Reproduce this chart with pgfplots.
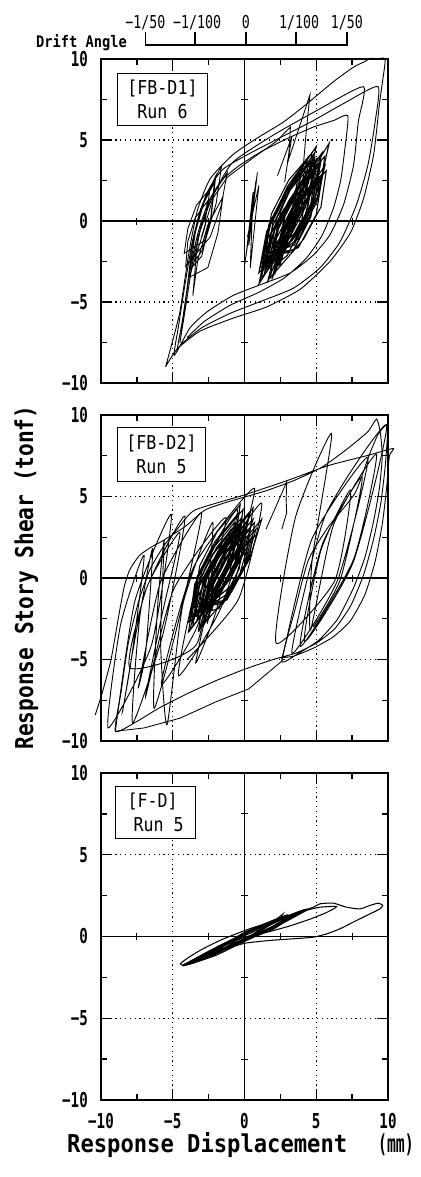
\documentclass[border=0pt]{standalone}
\usepackage{fontspec}
\setmainfont{DejaVu Sans Mono}
\newfontfamily\tickfont[FakeStretch=0.69]{DejaVu Sans Mono}
\newfontfamily\labfont[FakeStretch=0.9]{DejaVu Sans Mono}
\newfontfamily\ylabfont[FakeStretch=0.86]{DejaVu Sans Mono}
\newfontfamily\mmfont[FakeStretch=0.6]{DejaVu Sans Mono}
\newfontfamily\boxfont[FakeStretch=0.87]{DejaVu Sans Mono}
\newfontfamily\drfont[FakeStretch=0.75]{DejaVu Sans Mono}
\newfontfamily\dafont[FakeStretch=0.86]{DejaVu Sans Mono}
\usepackage{pgfplots}
\pgfplotsset{compat=1.18}
\newcommand\tickf{\tickfont\bfseries\fontsize{20.6pt}{24pt}\selectfont}
\newcommand\labf{\labfont\bfseries\fontsize{24.7pt}{28pt}\selectfont}
\newcommand\ylabf{\ylabfont\bfseries\fontsize{24.7pt}{28pt}\selectfont}
\newcommand\mmf{\mmfont\bfseries\fontsize{24.7pt}{28pt}\selectfont}
\newcommand\boxf{\boxfont\fontsize{19.2pt}{24pt}\selectfont}
\newcommand\drf{\drfont\fontsize{17.8pt}{20pt}\selectfont}
\newcommand\daf{\dafont\bfseries\fontsize{16pt}{18pt}\selectfont}
\pgfplotsset{
  hyst/.style={
    scale only axis, width=287bp,
    xmin=-10, xmax=10, ymin=-10, ymax=10,
    axis line style={line width=1.8bp, black},
    xtick={-10,-5,0,5,10}, ytick={-10,-5,0,5,10},
    yticklabels={−10,−5,0,5,10},
    minor xtick={-7.5,-2.5,2.5,7.5}, minor ytick={-7.5,-2.5,2.5,7.5},
    tick align=inside, major tick length=11bp, minor tick length=6bp,
    every tick/.style={black, line width=1.4bp},
    grid=major,
    major grid style={black, line width=1.2bp, dash pattern=on 1.2bp off 3.6bp},
    extra x ticks={0}, extra y ticks={0},
    extra x tick labels={}, extra y tick labels={},
    extra tick style={grid=major, major grid style={solid, black, line width=1.2bp}},
    clip=false,
    yticklabel style={font=\tickf, anchor=east, inner sep=0pt, xshift=-13bp},
    xticklabel style={font=\tickf, anchor=north, inner sep=0pt, yshift=-13bp},
  },
  lp/.style={black, line width=0.9bp, smooth, tension=0.35},
  lq/.style={black, line width=0.85bp},
  lc/.style={black, line width=1.05bp},
  zt/.style={only marks, mark=|, mark size=3.5bp, mark options={line width=1.1bp, black}},
  zu/.style={only marks, mark=-, mark size=3.5bp, mark options={line width=1.1bp, black}},
}
\begin{document}
\begin{tikzpicture}
\useasboundingbox (0,0) rectangle (421bp,-1177bp);

% ---------- drift angle scale ----------
\begin{axis}[at={(101bp,-45bp)}, anchor=south west, scale only axis,
  width=287bp, height=13bp, xmin=-10, xmax=10, ymin=0, ymax=1,
  hide axis, clip=false]
\addplot[black, line width=1.5bp] coordinates {(-6.9,1) (-6.9,0) (7.14,0) (7.14,1)};
\addplot[black, line width=1.5bp] coordinates {(-3.45,0) (-3.45,1)};
\addplot[black, line width=1.5bp] coordinates {(0.1,0) (0.1,1)};
\addplot[black, line width=1.5bp] coordinates {(3.6,0) (3.6,1)};
\node[anchor=base, inner sep=0pt, font=\drf] at (axis cs:-6.9,1.27) {−1/50};
\node[anchor=base, inner sep=0pt, font=\drf] at (axis cs:-3.3,1.27) {−1/100};
\node[anchor=base, inner sep=0pt, font=\drf] at (axis cs:0.1,1.27) {0};
\node[anchor=base, inner sep=0pt, font=\drf] at (axis cs:3.8,1.27) {1/100};
\node[anchor=base, inner sep=0pt, font=\drf] at (axis cs:7.14,1.27) {1/50};
\end{axis}
\node[anchor=base east, inner sep=0pt, font=\daf] at (127bp,-47bp) {Drift Angle};

% ---------- panel 1 ----------
\begin{axis}[hyst, at={(101bp,-383bp)}, anchor=south west, height=324bp, xticklabels={}]
\addplot[zt] coordinates {(-7.5,0) (-2.5,0) (2.5,0) (7.5,0)};
\addplot[zu] coordinates {(0,-7.5) (0,-2.5) (0,2.5) (0,7.5)};
\addplot[lp] coordinates {(-5.5,-9.0) (-5.1,-7.7) (-4.5,-5.6) (-3.9,-2.1) (-3.3,0.6) (-2.4,2.6) (-0.8,4.1) (0.85,5.1) (2.7,6.1) (4.3,7.2) (6.2,8.6) (7.6,9.5) (8.4,9.85) (8.8,10.05) (9.2,10.0) (9.8,10.0) (9.6,8.5) (9.4,7.2) (9.0,4.1) (8.3,1.4) (7.4,-0.7) (5.95,-2.5) (3.9,-4.2) (1.55,-5.3) (-0.8,-6.0) (-3.1,-6.8) (-4.7,-7.9) (-5.5,-9.0)};
\addplot[lp] coordinates {(-4.5,-7.5) (-4.1,-5.3) (-3.6,-2.5) (-2.9,0.0) (-2.0,1.9) (-0.78,3.66) (2.0,5.3) (5.0,6.8) (8.28,8.29) (7.93,6.13) (7.6,3.45) (6.9,1.0) (5.95,-0.86) (4.8,-2.1) (3.2,-3.2) (1.2,-3.9) (-0.8,-4.6) (-2.6,-5.6) (-3.8,-6.6) (-4.9,-8.3) (-4.6,-6.5) (-4.2,-4.2) (-3.7,-1.6) (-3.1,0.6) (-2.4,2.1) (-1.5,3.2) (0.15,4.07) (2.5,5.15) (4.8,6.2) (7.0,7.3) (9.3,8.3) (9.1,6.1) (8.6,3.45) (7.8,1.0) (6.65,-1.3) (5.25,-2.9) (3.4,-4.15) (1.08,-4.98) (-1.0,-5.7) (-3.0,-6.6) (-4.4,-7.6) (-4.7,-8.0) (-4.3,-6.0) (-3.8,-3.0) (-3.2,-0.6) (-2.5,1.2) (-1.6,2.5) (-0.4,3.4) (1.2,4.3) (3.0,5.1) (4.8,5.8) (6.2,6.2) (7.2,6.5) (7.0,4.5) (6.7,2.5) (6.2,0.8) (5.4,-0.9) (4.3,-2.3) (2.8,-3.5) (1.0,-4.4) (-1.0,-5.2) (-2.8,-6.2) (-4.0,-7.2)};
\addplot[lq] coordinates {(2.3,2.8) (3.3,5.2) (3.0,3.6) (4.56,7.78) (4.3,5.5) (4.1,3.4) (3.6,1.5)};
\addplot[lq] coordinates {(-3.0,-1.0) (-2.2,1.4) (-1.2,2.7) (0.6,3.9) (2.2,4.9) (3.2,5.8) (3.1,4.2) (2.8,2.4)};
\addplot[lq] coordinates {(-4.0,-4.2) (-3.68,-1.67) (-3.02,0.77) (-2.0,2.8) (-2.32,0.27) (-2.98,-2.17) (-3.8,-3.0) (-3.42,-0.67) (-2.68,1.57) (-1.6,3.4) (-1.98,1.07) (-2.72,-1.17) (-4.2,-2.0) (-3.95,-0.47) (-3.35,0.97) (-2.4,2.0) (-2.65,0.47) (-3.25,-0.97) (-3.6,-4.6) (-3.25,-2.37) (-2.55,-0.23) (-1.5,1.5) (-1.85,-0.73) (-2.55,-2.87) (-3.9,-3.5) (-3.65,-1.33) (-3.05,0.73) (-2.1,2.4) (-2.35,0.23) (-2.95,-1.83) (-3.5,-2.5) (-3.08,-0.47) (-2.32,1.47) (-1.2,3.0) (-1.62,0.97) (-2.38,-0.97) (-4.1,-2.8) (-3.95,-1.27) (-3.45,0.17) (-2.6,1.2) (-2.75,-0.33) (-3.25,-1.77) (-3.9,-3.6)};
\addplot[lq] coordinates {(0.0,-2.8) (0.8,2.5) (0.3,-1.5) (0.9,3.0) (0.1,-2.2) (0.6,1.8) (0.4,-2.9) (1.0,2.2) (0.2,-1.0)};
\addplot[lc] coordinates {(1.2,-3.4) (1.88,-1.0) (3.12,1.3) (4.6,3.2) (3.92,0.8) (2.68,-1.5) (1.8,-2.6) (2.42,-0.27) (3.58,1.97) (5.0,3.8) (4.38,1.47) (3.22,-0.77) (1.0,-3.9) (1.62,-1.53) (2.78,0.73) (4.2,2.6) (3.58,0.23) (2.42,-2.03) (2.2,-2.0) (2.82,0.27) (3.98,2.43) (5.4,4.2) (4.78,1.93) (3.62,-0.23) (1.5,-3.0) (2.18,-0.8) (3.42,1.3) (4.9,3.0) (4.22,0.8) (2.98,-1.3) (1.9,-3.6) (2.55,-1.4) (3.75,0.7) (5.2,2.4) (4.55,0.2) (3.35,-1.9) (1.3,-2.2) (1.88,0.03) (3.02,2.17) (4.4,3.9) (3.82,1.67) (2.68,-0.47) (2.4,-2.8) (3.02,-0.53) (4.18,1.63) (5.6,3.4) (4.98,1.13) (3.82,-1.03) (1.1,-2.9) (1.62,-0.63) (2.68,1.53) (4.0,3.3) (3.48,1.03) (2.42,-1.13) (2.0,-1.6) (2.55,0.67) (3.65,2.83) (5.0,4.6) (4.45,2.33) (3.35,0.17) (1.6,-3.8) (2.18,-1.63) (3.32,0.43) (4.7,2.1) (4.12,-0.07) (2.98,-2.13) (2.6,-2.4) (3.25,0.2) (4.45,2.7) (5.9,4.8) (5.25,2.2) (4.05,-0.3) (1.4,-2.5) (1.98,-0.27) (3.12,1.87) (4.5,3.6) (3.92,1.37) (2.78,-0.77) (2.1,-3.2) (2.65,-1.0) (3.75,1.1) (5.1,2.8) (4.55,0.6) (3.45,-1.5) (1.7,-2.0) (2.28,0.23) (3.42,2.37) (4.8,4.1) (4.22,1.87) (3.08,-0.27) (2.8,-1.8) (3.25,0.0) (4.25,1.7) (5.5,3.0) (5.05,1.2) (4.05,-0.5) (1.0,-3.2) (1.48,-0.93) (2.52,1.23) (3.8,3.0) (3.32,0.73) (2.28,-1.43) (2.3,-2.6) (2.85,-0.33) (3.95,1.83) (5.3,3.6) (4.75,1.33) (3.65,-0.83) (1.4,-3.0)};
\addplot[lc] coordinates {(1.4,-3.2) (1.83,-0.83) (3.12,1.28) (4.8,3.0) (4.37,0.63) (3.08,-1.48) (2.0,-2.4) (2.4,-0.1) (3.65,1.95) (5.3,3.6) (4.9,1.3) (3.65,-0.75) (1.1,-3.6) (1.5,-1.3) (2.75,0.75) (4.4,2.4) (4.0,0.1) (2.75,-1.95) (2.4,-2.0) (2.77,0.3) (3.98,2.35) (5.6,4.0) (5.23,1.7) (4.02,-0.35) (1.7,-2.9) (2.1,-0.53) (3.35,1.58) (5.0,3.3) (4.6,0.93) (3.35,-1.18) (1.3,-2.6) (1.7,-0.2) (2.95,1.95) (4.6,3.7) (4.2,1.3) (2.95,-0.85) (2.1,-3.3) (2.5,-1.0) (3.75,1.05) (5.4,2.7) (5.0,0.4) (3.75,-1.65) (1.6,-2.3) (2.0,0.07) (3.25,2.18) (4.9,3.9) (4.5,1.53) (3.25,-0.58) (1.2,-3.0) (1.53,-0.67) (2.72,1.42) (4.3,3.1) (3.97,0.77) (2.78,-1.32) (2.5,-2.7) (2.87,-0.47) (4.08,1.52) (5.7,3.1) (5.33,0.87) (4.12,-1.12) (1.8,-3.5) (2.17,-1.17) (3.38,0.92) (5.0,2.6) (4.63,0.27) (3.42,-1.82) (1.5,-1.9) (1.87,0.43) (3.08,2.52) (4.7,4.2) (4.33,1.87) (3.12,-0.22) (1.3,-2.8)};
\node[draw, line width=1bp, anchor=north west, minimum width=90bp, minimum height=52bp, align=center, inner sep=0pt, font=\boxf, fill=white] at (rel axis cs:0.0557,0.957) {[FB-D1]\\Run 6};
\end{axis}

% ---------- panel 2 ----------
\begin{axis}[hyst, at={(101bp,-741bp)}, anchor=south west, height=326bp, xticklabels={}]
\addplot[zt] coordinates {(-7.5,0) (-2.5,0) (2.5,0) (7.5,0)};
\addplot[zu] coordinates {(0,-7.5) (0,-2.5) (0,2.5) (0,7.5)};
\addplot[lp] coordinates {(-10.4,-8.4) (-9.9,-7.0) (-9.3,-5.0) (-8.8,-2.5) (-8.4,-0.6) (-8.0,0.5) (-7.3,1.4) (-6.4,1.95) (-5.8,2.23) (-4.15,3.15) (-2.75,4.17) (-1.13,4.68) (0.27,5.03) (1.66,5.4) (3.5,6.0) (5.4,6.8) (7.2,7.95) (8.6,8.98) (9.2,9.75) (9.45,9.0) (9.6,7.5) (9.4,5.5) (9.0,3.5) (8.4,1.3) (7.6,-0.6) (6.5,-2.5) (5.2,-3.8) (3.8,-4.6) (2.6,-5.1) (3.5,-2.0) (4.45,1.1) (5.85,3.15) (7.7,5.2) (8.65,7.45) (9.3,8.8) (9.9,9.4) (9.95,8.6) (9.8,6.8) (9.5,4.6) (9.0,2.4) (8.3,0.2) (7.4,-1.7) (6.3,-3.1) (5.0,-4.0) (3.6,-4.6) (2.0,-5.0) (0.0,-5.6) (-2.0,-6.3) (-4.0,-7.1) (-6.0,-8.0) (-7.5,-8.8) (-9.0,-9.4) (-8.6,-7.0) (-8.1,-4.0) (-7.4,-1.5) (-6.6,0.5) (-5.6,2.0) (-4.5,3.2) (-3.45,4.17) (0.0,5.1) (3.05,6.0) (5.85,6.9) (8.5,7.5) (10.37,7.95) (10.1,7.5) (9.9,5.5) (9.6,3.3) (9.1,1.0) (8.4,-1.0) (7.4,-2.6) (6.2,-3.6) (4.8,-4.3) (3.4,-4.8) (2.4,-4.9)};
\addplot[lq] coordinates {(2.6,-5.1) (0.3,-6.8) (-2.0,-7.6) (-4.5,-8.6) (-7.0,-9.2) (-9.0,-9.4)};
\addplot[lp] coordinates {(-9.0,-9.4) (-7.64,-1.42) (-5.1,3.9) (-6.47,-4.08) (-9.5,-9.2) (-8.63,-2.84) (-7.0,1.4) (-7.88,-4.96) (-8.5,-8.2) (-6.98,-1.0) (-4.15,3.8) (-5.67,-3.4) (-7.8,-8.9) (-7.31,-2.48) (-6.4,1.8) (-6.89,-4.62) (-7.4,-6.7) (-5.86,-0.28) (-3.0,4.0) (-4.54,-2.42) (-6.3,-8.0) (-6.06,-1.82) (-5.6,2.3) (-5.85,-3.88) (-5.4,-9.0) (-4.28,-1.56) (-2.2,3.4) (-3.32,-4.04) (-8.0,-5.5) (-6.78,-0.52) (-4.5,2.8) (-5.73,-2.18) (-6.9,-7.3) (-4.94,-0.7) (-1.3,3.7) (-3.26,-2.9) (-5.8,-6.5) (-3.53,0.7) (0.7,5.5) (-1.58,-1.7) (-4.6,-6.0) (-3.17,0.12) (-0.5,4.2) (-1.94,-1.92) (-3.4,-5.2) (-1.79,0.68) (1.2,4.6) (-0.41,-1.28) (-4.0,-5.0)};
\addplot[lc] coordinates {(-3.6,-2.8) (-2.98,-0.67) (-1.82,1.37) (-0.4,3.0) (-1.02,0.87) (-2.18,-1.17) (-3.0,-2.2) (-2.38,-0.1) (-1.22,1.9) (0.2,3.5) (-0.42,1.4) (-1.58,-0.6) (-3.8,-3.2) (-3.25,-1.13) (-2.15,0.83) (-0.8,2.4) (-1.35,0.33) (-2.45,-1.63) (-2.7,-1.6) (-2.05,0.33) (-0.85,2.17) (0.6,3.6) (-0.05,1.67) (-1.25,-0.17) (-3.3,-2.6) (-2.68,-0.6) (-1.52,1.3) (-0.1,2.8) (-0.72,0.8) (-1.88,-1.1) (-2.9,-3.0) (-2.28,-1.07) (-1.12,0.77) (0.3,2.2) (-0.32,0.27) (-1.48,-1.57) (-3.5,-1.8) (-2.98,0.1) (-1.92,1.9) (-0.6,3.3) (-1.12,1.4) (-2.18,-0.4) (-2.5,-2.4) (-1.85,-0.4) (-0.65,1.5) (0.8,3.0) (0.15,1.0) (-1.05,-0.9) (-3.7,-2.4) (-3.25,-0.43) (-2.25,1.43) (-1.0,2.9) (-1.45,0.93) (-2.45,-0.93) (-2.8,-1.4) (-2.18,0.6) (-1.02,2.5) (0.4,4.0) (-0.22,2.0) (-1.38,0.1) (-3.2,-3.3) (-2.58,-1.37) (-1.42,0.47) (0.0,1.9) (-0.62,-0.03) (-1.78,-1.87) (-2.3,-2.0) (-1.58,0.07) (-0.32,2.03) (1.2,3.6) (0.48,1.53) (-0.78,-0.43) (-3.4,-2.1) (-2.82,-0.17) (-1.68,1.67) (-0.3,3.1) (-0.88,1.17) (-2.02,-0.67) (-2.6,-2.8) (-2.02,-0.83) (-0.88,1.03) (0.5,2.5) (-0.08,0.53) (-1.22,-1.33) (-3.1,-1.7) (-2.58,0.3) (-1.52,2.2) (-0.2,3.7) (-0.72,1.7) (-1.78,-0.2) (-2.2,-1.5) (-1.62,0.1) (-0.48,1.6) (0.9,2.7) (0.32,1.1) (-0.82,-0.4) (-3.9,-2.7) (-3.45,-0.73) (-2.45,1.13) (-1.2,2.6) (-1.65,0.63) (-2.65,-1.23) (-2.9,-2.3) (-2.35,-0.27) (-1.25,1.67) (0.1,3.2) (-0.45,1.17) (-1.55,-0.77) (-3.3,-2.5)};
\addplot[lc] coordinates {(-3.6,-2.9) (-3.17,-0.53) (-1.88,1.58) (-0.2,3.3) (-0.63,0.93) (-1.92,-1.18) (-3.0,-2.1) (-2.6,0.2) (-1.35,2.25) (0.3,3.9) (-0.1,1.6) (-1.35,-0.45) (-3.9,-3.3) (-3.5,-1.0) (-2.25,1.05) (-0.6,2.7) (-1.0,0.4) (-2.25,-1.65) (-2.6,-1.7) (-2.23,0.6) (-1.02,2.65) (0.6,4.3) (0.23,2.0) (-0.98,-0.05) (-3.3,-2.6) (-2.9,-0.23) (-1.65,1.88) (0.0,3.6) (-0.4,1.23) (-1.65,-0.88) (-3.7,-2.3) (-3.3,0.1) (-2.05,2.25) (-0.4,4.0) (-0.8,1.6) (-2.05,-0.55) (-2.9,-3.0) (-2.5,-0.7) (-1.25,1.35) (0.4,3.0) (0.0,0.7) (-1.25,-1.35) (-3.4,-2.0) (-3.0,0.37) (-1.75,2.48) (-0.1,4.2) (-0.5,1.83) (-1.75,-0.28) (-3.8,-2.7) (-3.47,-0.37) (-2.28,1.72) (-0.7,3.4) (-1.03,1.07) (-2.22,-1.02) (-2.5,-2.4) (-2.13,-0.17) (-0.92,1.82) (0.7,3.4) (0.33,1.17) (-0.88,-0.82) (-3.2,-3.2) (-2.83,-0.87) (-1.62,1.22) (0.0,2.9) (-0.37,0.57) (-1.58,-1.52) (-3.5,-1.6) (-3.13,0.73) (-1.92,2.82) (-0.3,4.5) (-0.67,2.17) (-1.88,0.08) (-3.4,-2.4)};
\addplot[lp] coordinates {(2.6,-5.1) (4.7,2.4) (8.6,7.4) (6.5,-0.1) (3.3,-4.6) (5.61,3.8) (9.9,9.4) (7.59,1.0) (4.2,-3.9) (5.32,1.68) (7.4,5.4) (6.28,-0.18) (2.2,-4.0) (3.55,3.72) (6.07,8.87) (4.72,1.15) (4.6,-3.2) (6.21,3.28) (9.2,7.6) (7.59,1.12) (3.9,-4.2) (5.41,2.04) (8.2,6.2) (6.7,-0.04) (4.8,-3.0)};
\addplot[lq] coordinates {(1.5,3.0) (2.5,5.0) (2.94,5.9) (2.9,4.8) (2.94,4.0) (2.6,3.0)};
\node[draw, line width=1bp, anchor=north west, minimum width=88bp, minimum height=54bp, align=center, inner sep=0pt, font=\boxf, fill=white] at (rel axis cs:0.0557,0.963) {[FB-D2]\\Run 5};
\end{axis}

% ---------- panel 3 ----------
\begin{axis}[hyst, at={(101bp,-1100bp)}, anchor=south west, height=327bp, xticklabels={−10,−5,0,5,10}]
\addplot[zt] coordinates {(-7.5,0) (-2.5,0) (2.5,0) (7.5,0)};
\addplot[zu] coordinates {(0,-7.5) (0,-2.5) (0,2.5) (0,7.5)};
\addplot[lp, line width=1.05bp] coordinates {(-4.49,-1.67) (-4.03,-1.36) (-3.1,-0.85) (-1.71,-0.24) (0.03,0.37) (1.78,0.88) (3.4,1.34) (4.8,1.79) (5.26,2.0) (6.19,2.04) (7.12,1.79) (8.05,1.69) (8.74,1.9) (9.33,2.04) (9.63,1.9) (9.44,1.69) (8.5,1.28) (7.58,0.88) (6.65,0.47) (5.72,0.16) (4.8,-0.04) (3.4,-0.14) (1.78,-0.24) (0.03,-0.41) (-1.25,-0.75) (-2.41,-1.26) (-3.57,-1.63) (-4.26,-1.77) (-4.49,-1.67)};
\addplot[lp, line width=1.05bp] coordinates {(-3.9,-1.65) (-2.2,-0.95) (0.03,0.27) (2.25,0.98) (4.1,1.55) (5.26,1.79) (6.42,1.83) (5.72,1.47) (4.56,1.06) (3.17,0.65) (1.78,0.31) (0.03,-0.04) (-1.5,-0.6) (-3.0,-1.3) (-4.1,-1.72)};
\addplot[lp, line width=1.1bp] coordinates {(-4.3,-1.75) (-2.0,-0.7) (0.0,0.15) (2.3,0.95) (4.5,1.7) (2.3,0.65) (0.0,-0.3) (-2.0,-1.15) (-4.0,-1.72) (-3.8,-1.6) (-1.8,-0.6) (0.0,0.15) (1.7,0.8) (3.3,1.35) (1.7,0.5) (0.0,-0.2) (-1.8,-0.95) (-3.8,-1.6) (-2.8,-1.2) (-1.3,-0.45) (0.3,0.25) (2.6,1.15) (0.8,0.2) (-0.6,-0.4) (-2.8,-1.2) (-3.4,-1.5) (-1.5,-0.55) (0.5,0.35) (3.9,1.55) (2.0,0.6) (0.0,-0.15) (-1.7,-0.85) (-3.4,-1.5) (-1.5,-0.75) (0.2,0.2) (1.8,0.85) (0.5,0.1) (-1.5,-0.75) (-2.2,-1.05) (-0.5,-0.05) (1.2,0.7) (2.9,1.3) (1.5,0.55) (0.0,-0.2) (-2.2,-1.05)};
\addplot[lp, line width=1.1bp] coordinates {(-4.1,-1.7) (-2.6,-0.95) (-0.8,-0.15) (1.0,0.55) (3.0,1.25) (4.2,1.65) (3.0,1.0) (1.0,0.25) (-0.8,-0.45) (-2.6,-1.25) (-4.1,-1.75) (-3.6,-1.55) (-2.0,-0.8) (0.0,0.05) (2.0,0.8) (3.6,1.4) (2.0,0.45) (0.0,-0.25) (-2.0,-1.05) (-3.6,-1.6)};
\addplot[lq] coordinates {(2.0,0.9) (2.7,1.4) (2.4,1.0)};
\node[draw, line width=1bp, anchor=north west, minimum width=80bp, minimum height=52bp, align=left, inner sep=0pt, font=\boxf, fill=white] at (rel axis cs:0.049,0.960) {[F-D]\\\hspace*{6bp}Run 5};
\end{axis}

% ---------- axis labels ----------
\node[rotate=90, anchor=base, inner sep=0pt, font=\ylabf] at (33bp,-577.5bp) {Response Story Shear (tonf)};
\node[anchor=base west, inner sep=0pt, font=\labf] at (67bp,-1152bp) {Response Displacement\hspace{31bp}{\mmf (mm)}};
\end{tikzpicture}
\end{document}
